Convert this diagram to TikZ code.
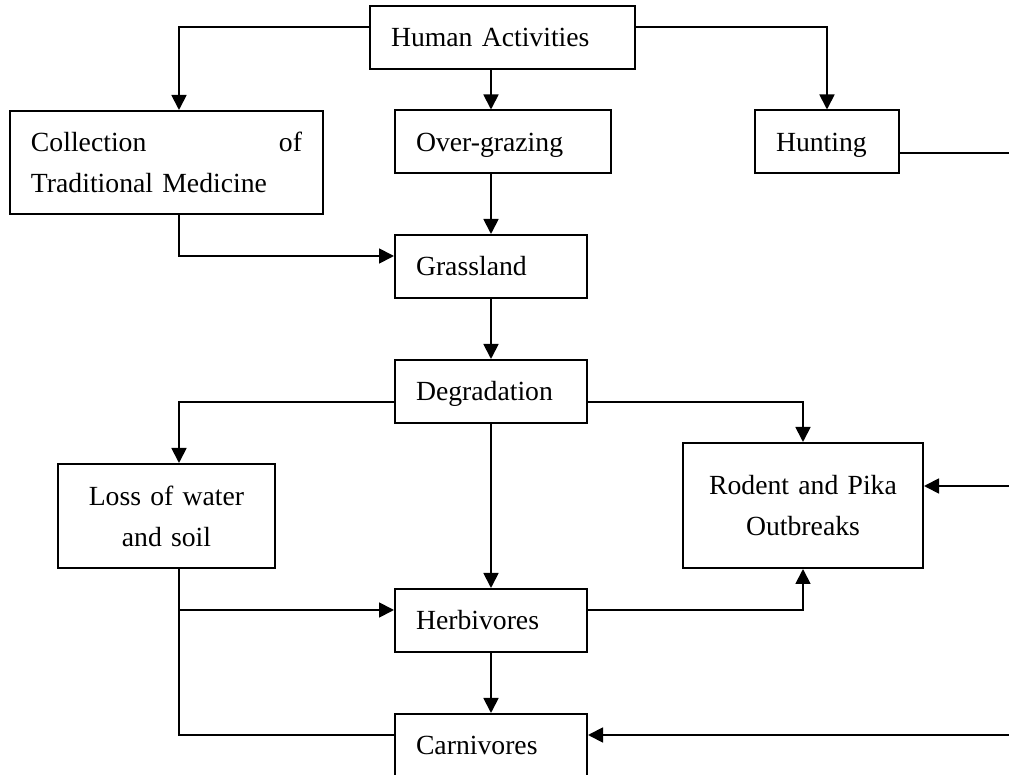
\documentclass[tikz,border=0pt]{standalone}
\usepackage{fontspec}
\setmainfont{Liberation Serif}
\usetikzlibrary{arrows.meta}
\begin{document}
\begin{tikzpicture}[x=0.5pt,y=-0.5pt,
		box/.style={draw, line width=1pt, inner xsep=10.5pt, inner ysep=0pt, font=\fontsize{13.85}{20.5}\selectfont},
		one/.style={box, align=left, minimum height=31.5pt, text height=9.5pt, text depth=0pt},
		arr/.style={line width=0.9pt, -{Triangle[length=7.5pt,width=7.5pt]}},
		ln/.style={line width=0.9pt}]
	\useasboundingbox (0,0) rectangle (1009,775);
		\node[one, text width=111.5pt] (hum) at (502.5,37.5) {Human Activities};
		\node[box, align=left, text width=135.5pt, minimum height=51.5pt] (coll) at (166.5,162.5) {Collection\hfill of\\Traditional Medicine};
		\node[one, text width=87pt] (over) at (503,142) {Over-grazing};
		\node[one, text width=51pt] (hunt) at (827,142) {Hunting};
		\node[one, text width=75pt] (grass) at (491,266.5) {Grassland};
		\node[one, text width=75pt] (degr) at (491,391.5) {Degradation};
		\node[box, align=center, text width=87.5pt, minimum height=52pt] (loss) at (166.5,516) {Loss of water\\and soil};
		\node[box, align=center, text width=99pt, minimum height=62.5pt] (rod) at (803,505.5) {Rodent and Pika\\Outbreaks\\[6pt]};
		\node[one, text width=75pt] (herb) at (491,620.5) {Herbivores};
		\node[one, text width=75pt] (carn) at (491,745.5) {Carnivores};
		\coordinate (rtop) at (1009,153);
		\coordinate (rmid) at (1009,486);
		\coordinate (rbot) at (1009,735);
    	\draw[arr] ([yshift=5.25pt]hum.west) -| ([xshift=6.25pt]coll.north);
    	\draw[arr] (hum.south -| grass.north) -- (over.north -| grass.north);
    	\draw[arr] ([yshift=5.25pt]hum.east) -| (hunt.north);
    	\draw[arr] ([xshift=6.25pt]coll.south) |- ([yshift=5.25pt]grass.west);
    	\draw[arr] (over.south -| grass.north) -- (grass.north);
    	\draw[arr] (grass) -- (degr);
    	\draw[arr] ([yshift=-5.25pt]degr.west) -| ([xshift=6.25pt]loss.north);
    	\draw[arr] ([yshift=-5.25pt]degr.east) -| (rod.north);
    	\draw[arr] (degr) -- (herb);
    	\draw[arr] ([xshift=6.25pt]loss.south) |- ([yshift=5.25pt]herb.west);
    	\draw[ln] ([xshift=6.25pt]loss.south) |- ([yshift=5.25pt]carn.west);
    	\draw[arr] ([yshift=5.25pt]herb.east) -| (rod.south);
    	\draw[arr] (herb) -- (carn);
    	\draw[ln] (hunt.east |- rtop) -- (rtop);
    	\draw[arr] (rmid) -- (rmid -| rod.east);
    	\draw[arr] (rbot) -- (rbot -| carn.east);
	\end{tikzpicture}
\end{document}
